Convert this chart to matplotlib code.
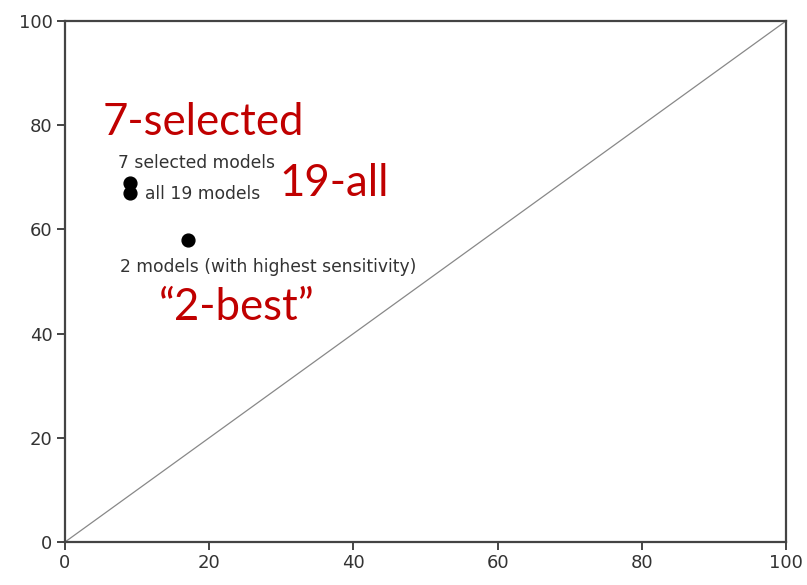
import matplotlib
matplotlib.use("Agg")
import matplotlib.pyplot as plt

# data
x_vals = [9, 9, 17]
y_vals = [69, 67, 58]
point_labels = ["7 selected models", "all 19 models", "2 models (with highest sensitivity)"]
big_labels = ["7-selected", "19-all", "\u201c2-best\u201d"]
ticks = [0, 20, 40, 60, 80, 100]

plt.rcParams['font.family'] = ['DejaVu Sans']

fig = plt.figure(figsize=(8.07, 5.85), dpi=100)
ax = fig.add_axes([65/807, 43/585, 721/807, 521/585])

# diagonal reference line
ax.plot([0, 100], [0, 100], color="#888888", lw=0.9)
ax.scatter(x_vals, y_vals, s=85, color="black", zorder=3)

# small labels next to the points
ax.text(7.3, 72.8, point_labels[0], fontsize=12.3, color="#333333", va="center")
ax.text(11.1, 66.8, point_labels[1], fontsize=12.3, color="#333333", va="center")
ax.text(7.6, 52.8, point_labels[2], fontsize=12.3, color="#333333", va="center")

# big red labels
red = "#C00000"
ax.text(5.2, 80.5, big_labels[0], fontsize=31.5, color=red, va="center", family="Lato")
ax.text(29.8, 68.8, big_labels[1], fontsize=31.5, color=red, va="center", family="Lato")
ax.text(13.0, 45.0, big_labels[2], fontsize=31.5, color=red, va="center", family="Lato")

ax.set_xlim(0, 100)
ax.set_ylim(0, 100)
ax.set_xticks(ticks)
ax.set_yticks(ticks)
for s in ax.spines.values():
    s.set_color("#444444")
    s.set_linewidth(1.6)
ax.tick_params(direction="out", length=6, width=1.4, color="#444444",
               labelsize=13, labelcolor="#333333", pad=3)

fig.savefig("out.png", dpi=100)
